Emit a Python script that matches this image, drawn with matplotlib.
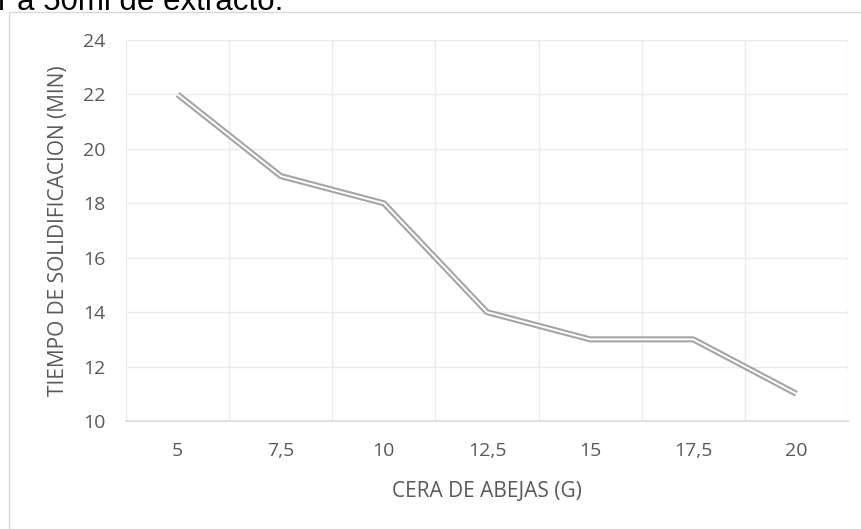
import matplotlib
matplotlib.use("Agg")
import matplotlib.pyplot as plt
from matplotlib.patches import Rectangle


# DATA

cera = ["5", "7,5", "10", "12,5", "15", "17,5", "20"]
tiempo = [22, 19, 18, 14, 13, 13, 11]
y_ticks = [10, 12, 14, 16, 18, 20, 22, 24]


# FIGURE SETUP

plt.rcParams['font.family'] = ['Open Sans', 'DejaVu Sans']
fig = plt.figure(figsize=(8.61, 5.29), dpi=100)

# cut-off text line from the document above the chart
fig.text(-0.002, 1.0 - 10 / 529, "r a 50ml de extracto.", fontsize=22.5,
         family='Liberation Sans', color='black', va='baseline', ha='left')

# chart frame
fig.patches.append(Rectangle((9 / 861, -0.05), 1.0, 1 - 11.5 / 529 + 0.05,
                             transform=fig.transFigure, fill=False,
                             edgecolor='#D9D9D9', lw=1.0))

ax = fig.add_axes([126 / 861, 1 - 421 / 529, (848 - 126) / 861, (421 - 40) / 529])

x = list(range(len(cera)))

# DOUBLE LINE: THICK GRAY WITH A THIN WHITE CORE

ax.plot(x, tiempo, color='#A5A5A5', lw=4.4, solid_capstyle='butt', zorder=3)
ax.plot(x, tiempo, color='white', lw=1.4, solid_capstyle='butt', zorder=4)


# AXES

ax.set_xlim(-0.5, len(cera) - 0.5)
ax.set_ylim(10, 24)
ax.set_xticks(x)
ax.set_xticklabels(cera)
ax.set_yticks(y_ticks)
ax.set_xticks([i - 0.5 for i in range(len(cera) + 1)], minor=True)

ax.grid(True, which='minor', axis='x', color='#EBEBEB', lw=1.0)
ax.grid(True, which='major', axis='y', color='#EBEBEB', lw=1.0)
ax.set_axisbelow(True)

for s in ['top', 'right', 'left']:
    ax.spines[s].set_visible(False)
ax.spines['bottom'].set_color('#D9D9D9')
ax.spines['bottom'].set_linewidth(1.2)

ax.tick_params(which='both', length=0, labelsize=14, colors='#595959')
ax.tick_params(axis='x', pad=15)
ax.tick_params(axis='y', pad=15)

ax.set_xlabel("CERA DE ABEJAS (G)", fontsize=15, color='#595959', labelpad=15)
ax.set_ylabel("TIEMPO DE SOLIDIFICACION (MIN)", fontsize=15, color='#595959', labelpad=10)

fig.savefig("out.png", dpi=100)
